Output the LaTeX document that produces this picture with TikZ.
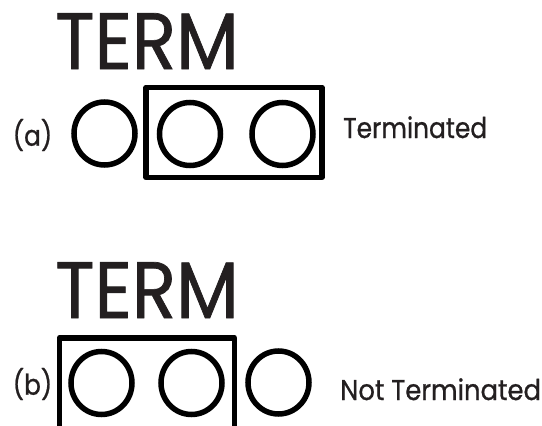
\documentclass[tikz,border=0pt]{standalone}
\usepackage{fontspec}
\setmainfont{Poppins}
\newfontfamily\termfont[FakeStretch=0.91,FakeBold=0.9]{Poppins}
\newfontfamily\lblfont[FakeStretch=0.87,FakeBold=0.8]{Poppins}
\newfontfamily\lblwidefont[FakeStretch=0.905,FakeBold=0.8]{Poppins}
\usetikzlibrary{shapes.geometric}
\definecolor{ink}{HTML}{231F20}
\begin{document}
\begin{tikzpicture}[x=1pt,y=-1pt,
  pin/.style={draw,ellipse,line width=5.5pt,inner sep=0pt,minimum width=61pt,minimum height=63pt},
  jumper/.style={draw,rectangle,line width=5.5pt,inner sep=0pt,line join=round},
  big/.style={inner sep=0pt,font=\termfont\fontsize{80}{80}\selectfont,text=ink},
  lbl/.style={inner sep=0pt,font=\lblfont\fontsize{28.6}{30}\selectfont,text=ink}]
\useasboundingbox (0,0) rectangle (542,426);
% (a)
\node[big,anchor=base] (terma) at (147,69) {TERM};
\node[lbl] (la) at (32.5,135) {(a)};
\node[pin] (a1) at (104.5,133.5) {};
\node[pin] (a2) at (190,134) {};
\node[pin] (a3) at (282.5,134) {};
\node[jumper,minimum width=176pt,minimum height=90pt] (ja) at (234,132.5) {};
\node[lbl,anchor=base west] (ta) at (343,138) {Terminated};
% (b)
\node[big,anchor=base] (termb) at (147,318) {TERM};
\node[lbl] (lb) at (32.5,384) {(b)};
\node[pin] (b1) at (101.5,383) {};
\node[pin] (b2) at (191.5,383) {};
\node[pin] (b3) at (278.5,382.5) {};
\begin{scope}
\clip (0,0) rectangle (542,426);
\draw[line width=5.5pt,line join=round] (59.5,440) coordinate (jb1) -- (59.5,337.75) coordinate (jb2) -- (234.25,337.75) coordinate (jb3) -- (234.25,440) coordinate (jb4);
\end{scope}
\node[lbl,font=\lblwidefont\fontsize{28.6}{30}\selectfont,anchor=base west] (tb) at (340,400) {Not Terminated};
\end{tikzpicture}
\end{document}
